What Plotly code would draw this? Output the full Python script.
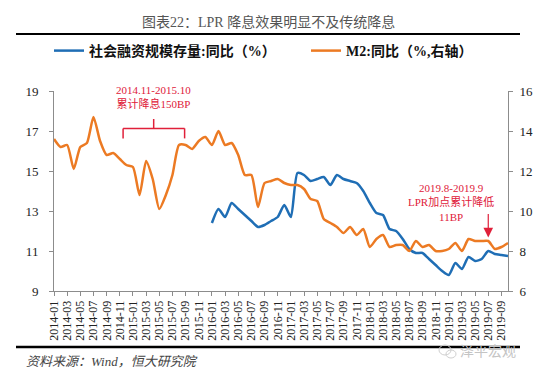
import plotly.graph_objects as go

# ---------------- data ----------------
months = [f"{y}-{m:02d}" for y in range(2014, 2020) for m in range(1, 13)]
categories = months[:70]  # 2014-01 .. 2019-10

m2_yoy = [13.6, 13.2, 13.3, 12.1, 13.2, 13.4, 14.7, 13.5, 12.8, 12.9,
          12.6, 12.3, 12.2, 10.8, 12.5, 11.6, 10.1, 10.8, 11.8, 13.3,
          13.3, 13.1, 13.5, 13.7, 13.3, 14.0, 13.3, 13.4, 12.8, 11.8,
          11.8, 10.2, 11.4, 11.5, 11.6, 11.4, 11.3, 11.3, 11.1, 10.6,
          10.5, 9.6, 9.4, 9.2, 8.9, 9.2, 8.8, 9.1, 8.2, 8.6,
          8.8, 8.2, 8.3, 8.3, 8.0, 8.5, 8.2, 8.3, 8.0, 8.0,
          8.1, 8.4, 8.0, 8.6, 8.5, 8.5, 8.5, 8.1, 8.2, 8.4]

tsf_yoy = [None] * 24 + [
          12.4, 13.1, 12.7, 13.4, 13.1, 12.8, 12.5, 12.2, 12.3, 12.5,
          12.7, 13.3, 12.7, 14.9, 14.8, 14.5, 14.6, 14.7, 14.3, 14.8,
          14.6, 14.5, 14.4, 14.0, 13.4, 12.9, 12.8, 12.1, 12.0, 11.6,
          11.1, 10.9, 10.9, 10.6, 10.3, 10.0, 9.8, 10.4, 10.1, 10.7,
          10.5, 10.6, 11.0, 10.85, 10.8, 10.75]

x_ticks = categories[::2]
left_ticks = [9, 11, 13, 15, 17, 19]
right_ticks = [6, 8, 10, 12, 14, 16]

series_names = ["社会融资规模存量:同比（%）", "M2:同比（%,右轴）"]
title_text = "图表22：LPR 降息效果明显不及传统降息"
source_text = "资料来源：Wind，恒大研究院"
note1_text = "2014.11-2015.10<br>累计降息150BP"
note2_text = "2019.8-2019.9<br>LPR加点累计降低<br>11BP"
watermark_text = "泽平宏观"

# ---------------- style ----------------
BLUE = "#1f6eb5"
ORANGE = "#ec7a23"
RED = "#e0203a"
AXIS = "#8c8c8c"
SERIF = "Liberation Serif, Times New Roman, Noto Sans CJK SC, serif"

fig = go.Figure()
fig.add_trace(go.Scatter(
    x=categories, y=tsf_yoy, name=series_names[0], mode="lines",
    line=dict(color=BLUE, width=2.5, shape="spline", smoothing=0.6),
    connectgaps=False, legend="legend"))
fig.add_trace(go.Scatter(
    x=categories, y=m2_yoy, name=series_names[1], mode="lines", yaxis="y2",
    line=dict(color=ORANGE, width=2.5, shape="spline", smoothing=0.6),
    legend="legend2"))

legend_common = dict(orientation="h", xanchor="left", y=1.2, yanchor="middle",
                     font=dict(size=14, color="#111", weight="bold"),
                     bgcolor="rgba(0,0,0,0)", itemclick=False, borderwidth=0)

fig.update_layout(
    width=550, height=370, autosize=False,
    margin=dict(l=46, r=50, t=83, b=87),
    paper_bgcolor="white", plot_bgcolor="white",
    font=dict(family=SERIF, color="#222"),
    showlegend=True,
    legend=dict(x=(41 - 46) / 454, **legend_common),
    legend2=dict(x=(298 - 46) / 454, **legend_common),
    xaxis=dict(type="category", range=[0, 69], tickmode="array",
               tickvals=x_ticks, ticktext=x_ticks, tickangle=-90,
               tickfont=dict(size=12, color="#222"),
               showline=True, linecolor=AXIS, linewidth=1,
               ticks="outside", ticklen=4, tickcolor=AXIS,
               showgrid=False, zeroline=False),
    yaxis=dict(range=[9, 19], tickmode="array", tickvals=left_ticks,
               tickfont=dict(size=13, color="#222"),
               showline=True, linecolor=AXIS, linewidth=1,
               ticks="outside", ticklen=4, tickcolor=AXIS,
               ticklabelstandoff=8,
               showgrid=False, zeroline=False),
    yaxis2=dict(range=[6, 16], overlaying="y", side="right", tickmode="array",
                tickvals=right_ticks, tickfont=dict(size=13, color="#222"),
                showline=True, linecolor=AXIS, linewidth=1,
                ticks="outside", ticklen=4, tickcolor=AXIS,
                ticklabelstandoff=4,
                showgrid=False, zeroline=False),
)

# title and rules
fig.add_annotation(text=title_text, xref="paper", yref="paper",
                   x=(260 - 46) / 454, y=(283 - 14) / 200, xanchor="center", yanchor="middle",
                   showarrow=False, font=dict(size=14, color="#555", family=SERIF))
fig.add_shape(type="line", xref="paper", yref="paper",
              x0=(8 - 46) / 454, x1=(512 - 46) / 454, y0=(283 - 26) / 200, y1=(283 - 26) / 200,
              line=dict(color="#000", width=2.2))
fig.add_shape(type="line", xref="paper", yref="paper",
              x0=(8 - 46) / 454, x1=(512 - 46) / 454, y0=(283 - 339) / 200, y1=(283 - 339) / 200,
              line=dict(color="#000", width=2.5))
fig.add_annotation(text="<i>" + source_text + "</i>", xref="paper", yref="paper",
                   x=(16 - 46) / 454, y=(283 - 353) / 200, xanchor="left", yanchor="middle",
                   showarrow=False, font=dict(size=13, color="#444", family=SERIF))
fig.add_annotation(text=watermark_text, xref="paper", yref="paper",
                   x=(480 - 46) / 454, y=(283 - 343) / 200, xanchor="center", yanchor="middle",
                   showarrow=False, font=dict(size=14, color="#c4c4c4"))
# small wechat-like icon
fig.add_shape(type="circle", xref="paper", yref="paper",
              x0=(431 - 46) / 454, x1=(443 - 46) / 454, y0=(283 - 347) / 200, y1=(283 - 337) / 200,
              line=dict(color="#cfcfcf", width=1))
fig.add_shape(type="circle", xref="paper", yref="paper",
              x0=(438 - 46) / 454, x1=(448 - 46) / 454, y0=(283 - 350) / 200, y1=(283 - 342) / 200,
              line=dict(color="#cfcfcf", width=1))

# annotation 1: bracket over 2014.11-2015.10
fig.add_annotation(text=note1_text, xref="x", yref="y", x=15.1, y=18.68,
                   xanchor="center", yanchor="middle", showarrow=False,
                   font=dict(size=11, color=RED, family=SERIF))
br = dict(color=RED, width=1.5)
fig.add_shape(type="line", xref="x", yref="y", x0=10.5, x1=19.85, y0=17.13, y1=17.13, line=br)
fig.add_shape(type="line", xref="x", yref="y", x0=10.5, x1=10.5, y0=17.13, y1=16.63, line=br)
fig.add_shape(type="line", xref="x", yref="y", x0=19.85, x1=19.85, y0=17.13, y1=16.63, line=br)
fig.add_shape(type="line", xref="x", yref="y", x0=15.15, x1=15.15, y0=17.13, y1=17.6, line=br)

# annotation 2: arrow
fig.add_annotation(text=note2_text, xref="x", yref="y2", x=60.3, y=10.43,
                   xanchor="center", yanchor="middle", showarrow=False,
                   font=dict(size=11, color=RED, family=SERIF))
fig.add_annotation(text="", xref="x", yref="y2", x=66, y=8.68,
                   showarrow=True, ax=0, ay=-25, arrowhead=2, arrowsize=1.6,
                   arrowwidth=1.2, arrowcolor=RED)

fig.write_html("out.html")
